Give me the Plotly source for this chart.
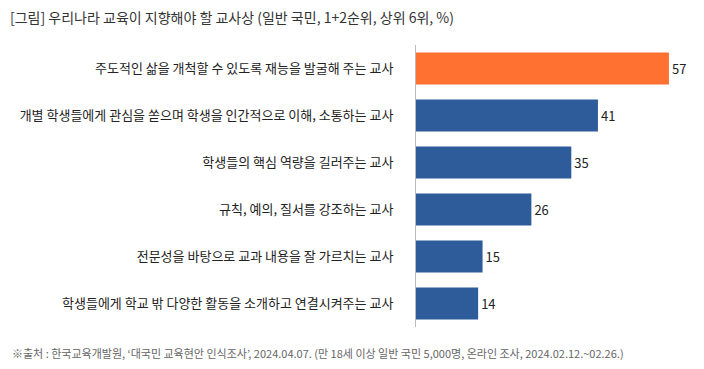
import plotly.graph_objects as go

categories = [
    "주도적인 삶을 개척할 수 있도록 재능을 발굴해 주는 교사",
    "개별 학생들에게 관심을 쏟으며 학생을 인간적으로 이해, 소통하는 교사",
    "학생들의 핵심 역량을 길러주는 교사",
    "규칙, 예의, 질서를 강조하는 교사",
    "전문성을 바탕으로 교과 내용을 잘 가르치는 교사",
    "학생들에게 학교 밖 다양한 활동을 소개하고 연결시켜주는 교사",
]
values = [57, 41, 35, 26, 15, 14]
title = "[그림] 우리나라 교육이 지향해야 할 교사상 (일반 국민, 1+2순위, 상위 6위, %)"
source = "※출처 : 한국교육개발원, ‘대국민 교육현안 인식조사’, 2024.04.07. (만 18세 이상 일반 국민 5,000명, 온라인 조사, 2024.02.12.~02.26.)"

colors = ["#FF7130"] + ["#2E5B99"] * 5
font = "Noto Sans CJK KR"

fig = go.Figure(go.Bar(
    x=values, y=categories, orientation="h",
    marker=dict(color=colors, line=dict(width=0)),
    width=0.68,
    text=[str(v) for v in values], textposition="outside",
    textfont=dict(size=13, color="#222222", family=font),
    cliponaxis=False,
))

fig.update_layout(
    width=704, height=369,
    margin=dict(l=416, r=4, t=45, b=42),
    paper_bgcolor="white", plot_bgcolor="white",
    showlegend=False,
    font=dict(family=font, color="#222222"),
    xaxis=dict(range=[0, 64], visible=False, showgrid=False, zeroline=False),
    yaxis=dict(autorange="reversed", showgrid=False, zeroline=False,
               showline=True, linecolor="#BBBBBB", linewidth=1,
               ticks="", ticklabelstandoff=19,
               tickfont=dict(size=13, color="#222222", family=font),
               automargin=False),
    annotations=[
        dict(text=title, x=0, y=1, xref="paper", yref="paper", xanchor="left", yanchor="top",
             xshift=-416 + 8, yshift=45 - 5, showarrow=False,
             font=dict(size=14, color="#333333", family=font)),
        dict(text=source, x=0, y=0, xref="paper", yref="paper", xanchor="left", yanchor="top",
             xshift=-416 + 10, yshift=-16, showarrow=False,
             font=dict(size=11, color="#666666", family=font)),
    ],
)

fig.write_html("out.html", config={"displayModeBar": False},
               post_script="document.body.style.margin='0';")
